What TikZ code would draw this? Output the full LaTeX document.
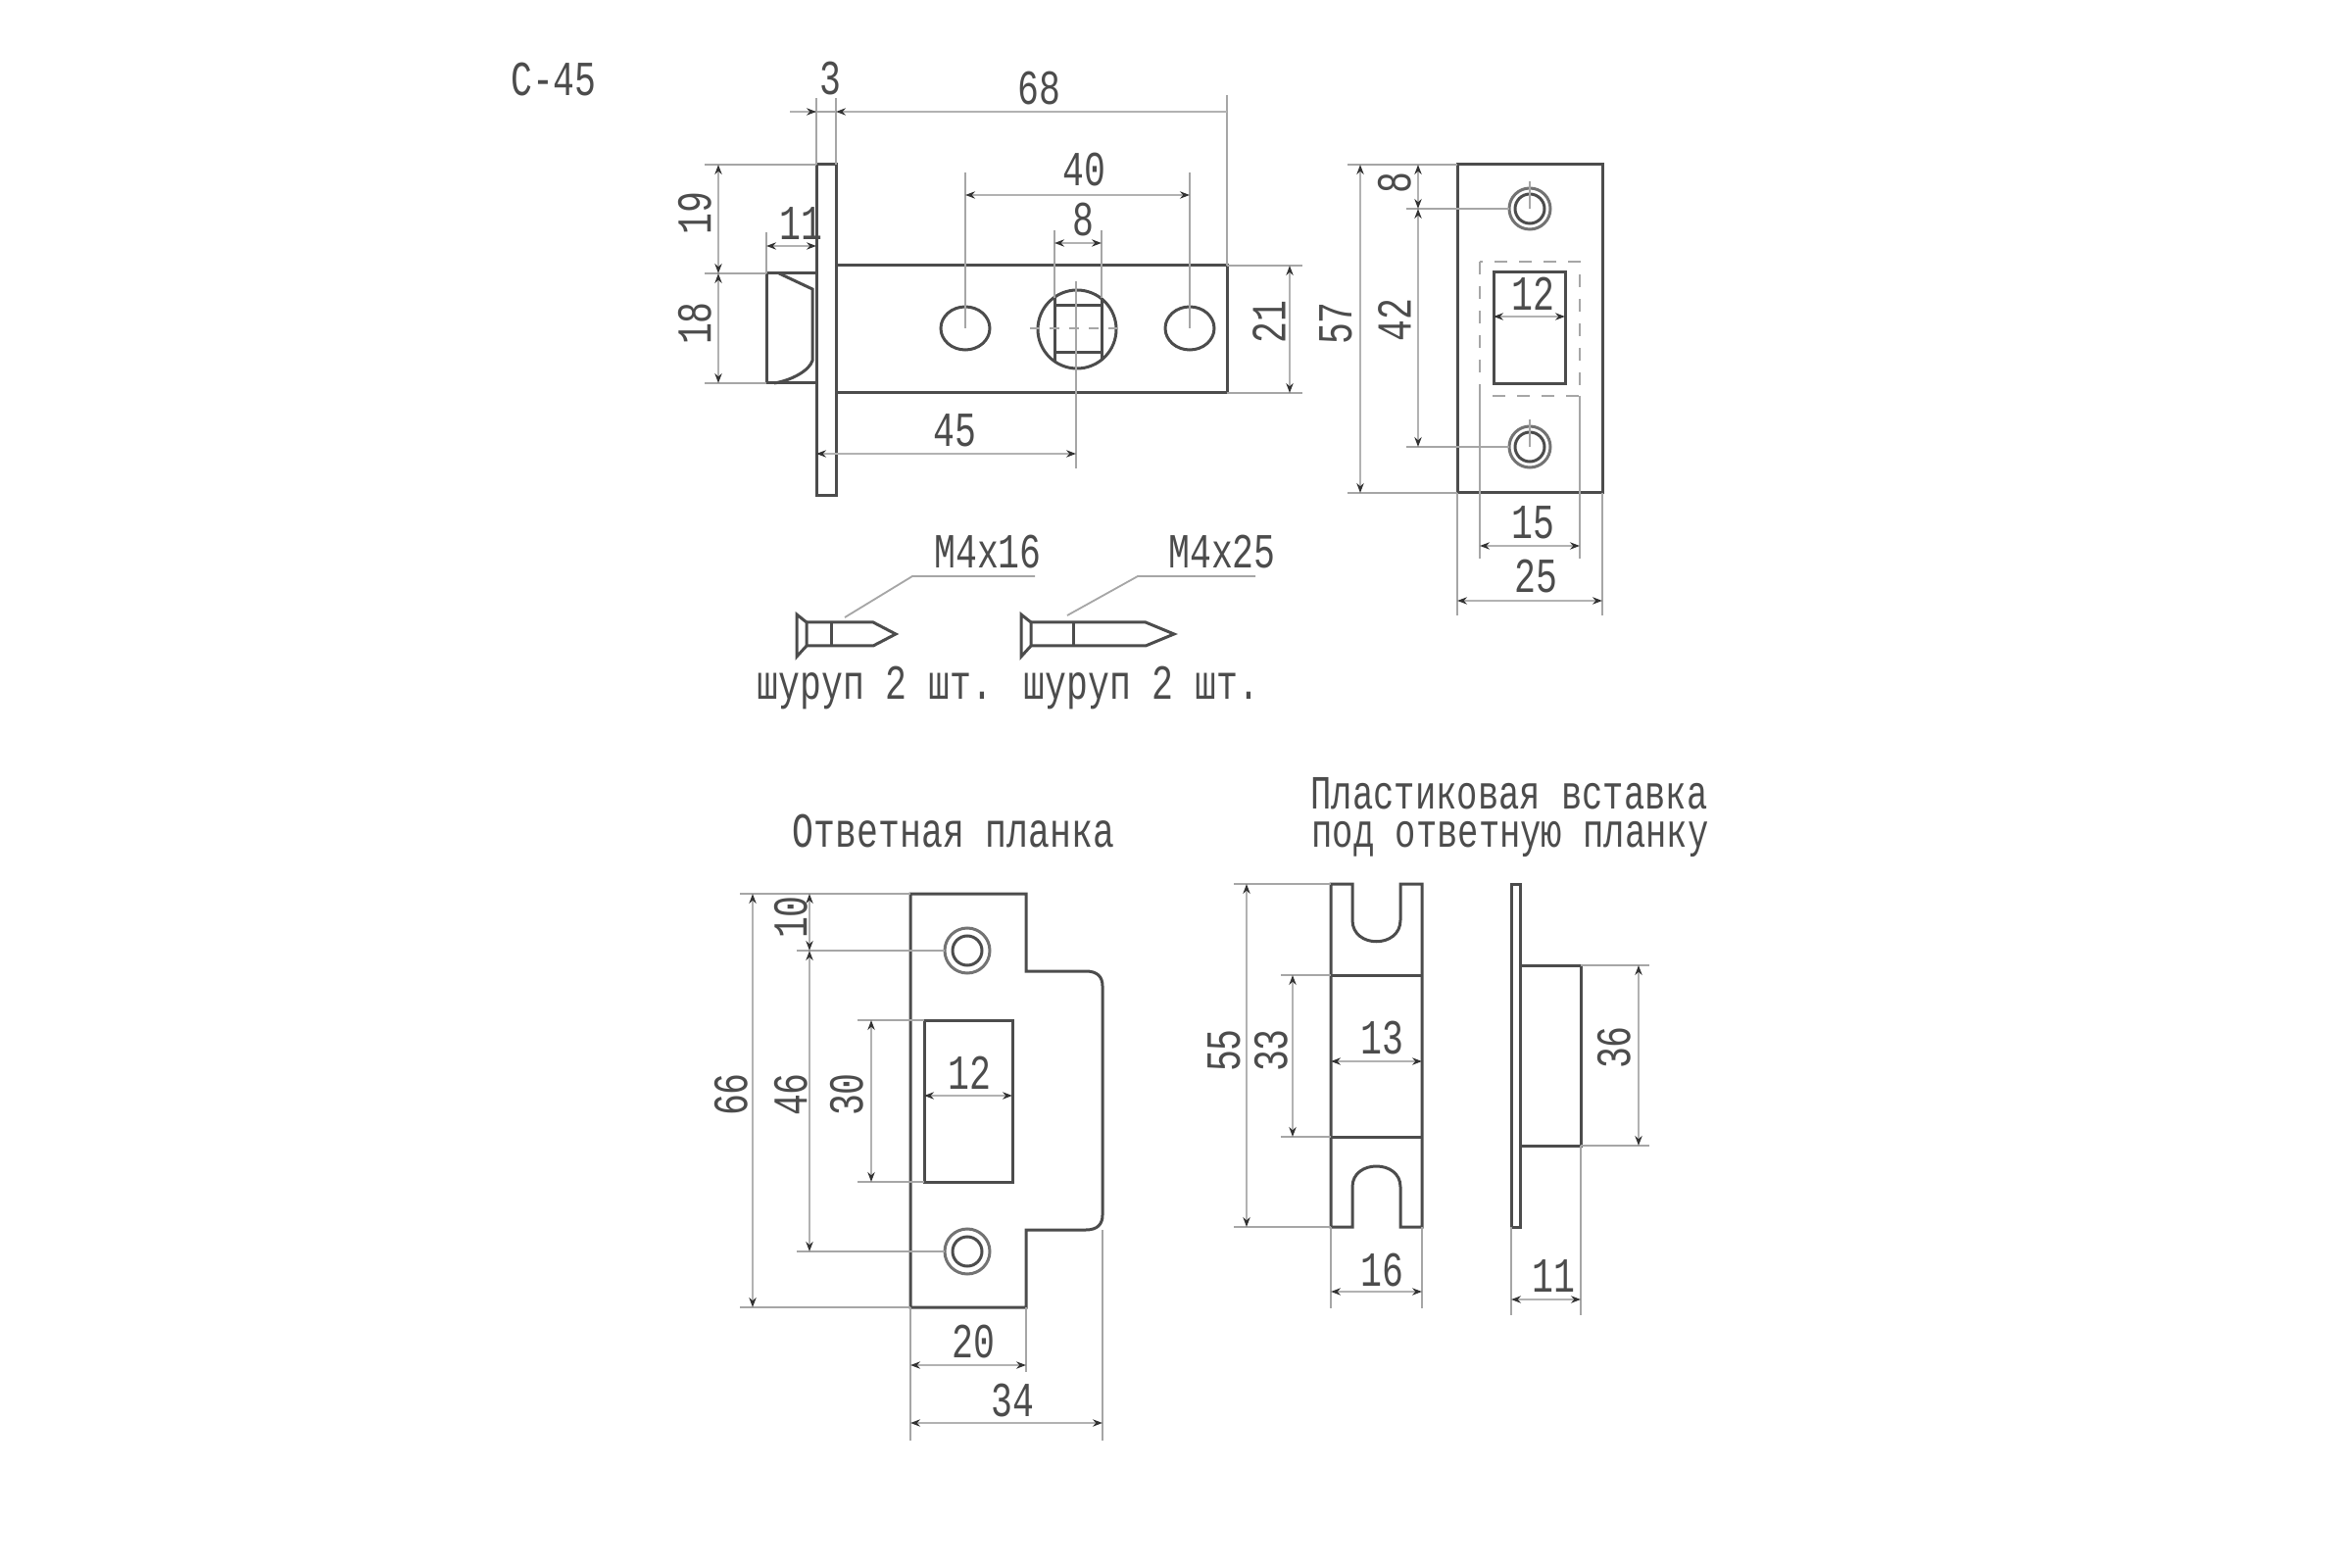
\documentclass[tikz,border=0pt]{standalone}
\usepackage{fontspec}
\setmainfont[FakeStretch=0.73]{Liberation Mono}
\usetikzlibrary{arrows.meta}
\tikzset{
  partline/.style={draw=black!70,line width=0.9pt},
  extline/.style={draw=black!35,line width=0.55pt},
  dimline/.style={draw=black!30,line width=0.5pt,{Stealth[length=3pt,width=2.2pt,color=black!80]}-{Stealth[length=3pt,width=2.2pt,color=black!80]}},
  dimtext/.style={inner sep=0pt,text=black!70,font=\fontsize{15}{15}\selectfont},
  vdimtext/.style={dimtext,rotate=90},
  titletext/.style={inner sep=0pt,anchor=base,text=black!70,font=\fontsize{14.6}{14.6}\selectfont}
}
\begin{document}
\begin{tikzpicture}[x=0.3pt,y=-0.3pt]
\useasboundingbox (0,0) rectangle (2400,1600);

\path (565,81) node[dimtext] (name) {С-45};

\draw[partline] (833,168) rectangle (853,506);
\draw[partline] (853,271) -- (1252,271) -- (1252,401) -- (853,401);
\draw[partline] (833,279) -- (782,279) -- (782,391) -- (833,391);
\draw[partline] (795,279) -- (829,295) -- (829,368) .. controls (826,378) and (808,388) .. (790,391);
\foreach \hx in {985,1214} \draw[partline] (\hx,335) ellipse [x radius=25,y radius=22];
\draw[partline] (1099,336) circle [radius=40];
\draw[partline] (1076,304) -- (1076,368) (1124,304) -- (1124,368) (1076,312) -- (1124,312) (1076,360) -- (1124,360);
\draw[extline,dashed] (1051,335) -- (1143,335);

\draw[extline] (833,100) -- (833,168) (853,100) -- (853,168) (1252,97) -- (1252,271);
\draw[extline] (806,114) -- (853,114);
\draw[dimline,{Stealth[length=3pt,width=2.2pt,color=black!80]}-] (853,114) -- (1252,114);
\draw[dimline,-{Stealth[length=3pt,width=2.2pt,color=black!80]}] (806,114) -- (833,114);
\path (847,80) node[dimtext] (t3) {3};
\path (1060,90) node[dimtext] (t68) {68};
\draw[extline] (985,176) -- (985,335) (1214,176) -- (1214,335);
\draw[dimline] (985,199) -- (1214,199);
\path (1106,173) node[dimtext] (t40) {40};
\draw[extline] (1076,235) -- (1076,304) (1124,235) -- (1124,304) (1098,287) -- (1098,478);
\draw[dimline] (1076,248) -- (1124,248);
\path (1105,224) node[dimtext] (t8) {8};
\draw[extline] (782,237) -- (782,279);
\draw[dimline] (782,251) -- (833,251);
\path (817,228) node[dimtext] (t11) {11};
\draw[extline] (719,168) -- (833,168) (719,279) -- (782,279) (719,391) -- (782,391);
\draw[dimline] (733,168) -- (733,279);
\draw[dimline] (733,279) -- (733,391);
\path (709,218) node[vdimtext] (t19) {19};
\path (709,330) node[vdimtext] (t18) {18};
\draw[extline] (1252,271) -- (1329,271) (1252,401) -- (1329,401);
\draw[dimline] (1316,271) -- (1316,401);
\path (1295,329) node[vdimtext] (t21) {21};
\draw[dimline] (833,463) -- (1098,463);
\path (974,439) node[dimtext] (t45) {45};

\draw[partline] (1487,168) rectangle (1635,503);
\draw[partline] (1524,278) rectangle (1597,392);
\draw[extline,line width=0.8pt,dash pattern=on 3.9pt off 3.6pt] (1510,267) rectangle (1612,404);
\foreach \hy in {213,456} {
  \draw[partline,black!55] (1561,\hy) circle [radius=21];
  \draw[partline] (1561,\hy) circle [radius=15];
  \draw[extline] (1561,\hy-28) -- (1561,\hy);
  \draw[extline] (1435,\hy) -- (1540,\hy);
}
\draw[extline] (1375,168) -- (1487,168) (1375,503) -- (1487,503);
\draw[dimline] (1388,168) -- (1388,503);
\path (1363,330) node[vdimtext] (t57) {57};
\draw[dimline] (1447,168) -- (1447,213);
\draw[dimline] (1447,213) -- (1447,456);
\path (1423,187) node[vdimtext] (t8b) {8};
\path (1423,327) node[vdimtext] (t42) {42};
\draw[dimline] (1524,323) -- (1597,323);
\path (1564,300) node[dimtext] (t12) {12};
\draw[extline] (1510,404) -- (1510,570) (1612,404) -- (1612,570);
\draw[dimline] (1510,557) -- (1612,557);
\path (1564,533) node[dimtext] (t15) {15};
\draw[extline] (1487,503) -- (1487,628) (1635,503) -- (1635,628);
\draw[dimline] (1487,613) -- (1635,613);
\path (1567,588) node[dimtext] (t25) {25};

\draw[partline] (813,627) -- (813,670) -- (823,659) -- (823,635) -- cycle;
\draw[partline] (823,635) -- (891,635) -- (914,647) -- (891,659) -- (823,659);
\draw[partline] (848,635) -- (848,659);
\draw[extline] (862,630) -- (931,588) -- (1056,588);
\path (1008,563) node[dimtext] (m16) {M4x16};
\path (893,702) node[dimtext] (s16) {шуруп 2 шт.};
\draw[partline] (1042,627) -- (1042,670) -- (1052,659) -- (1052,635) -- cycle;
\draw[partline] (1052,635) -- (1169,635) -- (1198,647) -- (1169,659) -- (1052,659);
\draw[partline] (1095,635) -- (1095,659);
\draw[extline] (1089,628) -- (1161,588) -- (1281,588);
\path (1247,563) node[dimtext] (m25) {M4x25};
\path (1165,702) node[dimtext] (s25) {шуруп 2 шт.};

\path (973,848) node[dimtext] (strike) {Ответная планка};
\draw[partline] (929,912) -- (1047,912) -- (1047,991) -- (1108,991) .. controls (1120,991) and (1125,997) .. (1125,1006) -- (1125,1240) .. controls (1125,1249) and (1120,1255) .. (1108,1255) -- (1047,1255) -- (1047,1334) -- (929,1334) -- cycle;
\draw[partline] (943,1041) rectangle (1033,1206);
\foreach \hy in {970,1277} {
  \draw[partline,black!55] (987,\hy) circle [radius=23];
  \draw[partline] (987,\hy) circle [radius=15];
  \draw[extline] (813,\hy) -- (964,\hy);
}
\draw[extline] (755,912) -- (929,912) (755,1334) -- (929,1334);
\draw[dimline] (768,912) -- (768,1334);
\path (746,1117) node[vdimtext] (t66) {66};
\draw[dimline] (826,912) -- (826,970);
\draw[dimline] (826,970) -- (826,1277);
\path (807,936) node[vdimtext] (t10) {10};
\path (807,1117) node[vdimtext] (t46) {46};
\draw[extline] (875,1041) -- (943,1041) (875,1206) -- (943,1206);
\draw[dimline] (889,1041) -- (889,1206);
\path (864,1117) node[vdimtext] (t30) {30};
\draw[dimline] (943,1118) -- (1033,1118);
\path (989,1095) node[dimtext] (t12b) {12};
\draw[extline] (929,1334) -- (929,1470) (1047,1334) -- (1047,1400) (1125,1255) -- (1125,1470);
\draw[dimline] (929,1393) -- (1047,1393);
\path (993,1369) node[dimtext] (t20) {20};
\draw[dimline] (929,1452) -- (1125,1452);
\path (1033,1429) node[dimtext] (t34) {34};

\path (1540,825) node[titletext] (ins1) {Пластиковая вставка};
\path (1541,865) node[titletext] (ins2) {под ответную планку};
\draw[partline] (1358,902) -- (1380,902) -- (1380,939) .. controls (1380,968) and (1429,968) .. (1429,939) -- (1429,902) -- (1451,902) -- (1451,1252) -- (1429,1252) -- (1429,1211) .. controls (1429,1183) and (1380,1183) .. (1380,1211) -- (1380,1252) -- (1358,1252) -- cycle;
\draw[partline] (1358,995) -- (1451,995) (1358,1160) -- (1451,1160);
\draw[extline] (1259,902) -- (1358,902) (1259,1252) -- (1358,1252);
\draw[dimline] (1272,902) -- (1272,1252);
\path (1249,1072) node[vdimtext] (t55) {55};
\draw[extline] (1307,995) -- (1358,995) (1307,1160) -- (1358,1160);
\draw[dimline] (1319,995) -- (1319,1160);
\path (1297,1072) node[vdimtext] (t33) {33};
\draw[dimline] (1358,1083) -- (1451,1083);
\path (1410,1059) node[dimtext] (t13) {13};
\draw[extline] (1358,1252) -- (1358,1335) (1451,1252) -- (1451,1335);
\draw[dimline] (1358,1318) -- (1451,1318);
\path (1410,1296) node[dimtext] (t16) {16};

\draw[partline] (1542,902) rectangle (1551,1252);
\draw[partline] (1551,985) -- (1613,985) -- (1613,1169) -- (1551,1169);
\draw[extline] (1613,985) -- (1683,985) (1613,1169) -- (1683,1169);
\draw[dimline] (1672,985) -- (1672,1169);
\path (1647,1069) node[vdimtext] (t36) {36};
\draw[extline] (1542,1252) -- (1542,1342) (1613,1169) -- (1613,1342);
\draw[dimline] (1542,1326) -- (1613,1326);
\path (1585,1302) node[dimtext] (t11b) {11};
\end{tikzpicture}
\end{document}
